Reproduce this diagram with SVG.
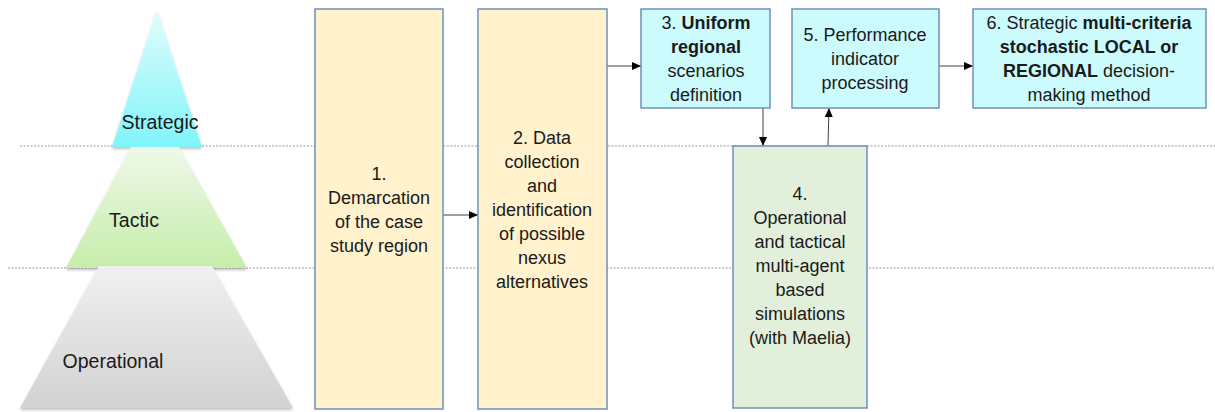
<svg xmlns="http://www.w3.org/2000/svg" width="1215" height="412" viewBox="0 0 1215 412">
<defs>
<linearGradient id="gS" x1="0" y1="0" x2="0" y2="1"><stop offset="0" stop-color="#e2fcfd"/><stop offset="1" stop-color="#7ff5fa"/></linearGradient>
<linearGradient id="gT" x1="0" y1="0" x2="0" y2="1"><stop offset="0" stop-color="#eef8e8"/><stop offset="1" stop-color="#c6edab"/></linearGradient>
<linearGradient id="gO" x1="0" y1="0" x2="0" y2="1"><stop offset="0" stop-color="#f0f0f0"/><stop offset="1" stop-color="#d2d2d2"/></linearGradient>
<filter id="sh" x="-10%" y="-10%" width="120%" height="130%"><feDropShadow dx="0" dy="2" stdDeviation="1.5" flood-color="#000" flood-opacity="0.25"/></filter>
<marker id="ah" markerWidth="10" markerHeight="8" refX="9" refY="4" orient="auto" markerUnits="userSpaceOnUse"><path d="M0,0 L9,4 L0,8 Z" fill="#000"/></marker>
<style>
.dash{stroke:#9a9a9a;stroke-width:1;stroke-dasharray:2,1.5;fill:none}
.box{stroke:#6f8fbf;stroke-width:1.5}
.y{fill:#fff2cc}
.c{fill:#ccfbfd}
.g{fill:#e2efda}
text{font-family:"Liberation Sans",Arial,sans-serif;fill:#1a1a1a}
.t{font-size:18px;text-anchor:middle}
.p{font-size:19.5px;text-anchor:middle}
.b{font-weight:bold}
.con{stroke:#404040;stroke-width:1;fill:none;marker-end:url(#ah)}
</style>
</defs>
<g id="guides">
<line class="dash" x1="20" y1="146" x2="1215" y2="146"/>
<line class="dash" x1="8" y1="268" x2="1215" y2="268"/>
</g>
<g id="pyramid">
<g id="strategic"><polygon points="157,10 202,147 112,147" fill="url(#gS)" filter="url(#sh)"/><text class="p" x="160" y="129">Strategic</text></g>
<g id="tactic"><polygon points="131,147 179,147 247,268 66,268" fill="url(#gT)" filter="url(#sh)"/><text class="p" x="134" y="227">Tactic</text></g>
<g id="operational"><polygon points="99,266 212,266 293,408 20,408" fill="url(#gO)" filter="url(#sh)"/><text class="p" x="113" y="368">Operational</text></g>
</g>
<g id="connectors">
<line class="con" x1="443" y1="215" x2="478" y2="215"/>
<line class="con" x1="607" y1="66" x2="641" y2="66"/>
<line class="con" x1="763" y1="108" x2="763" y2="146"/>
<line class="con" x1="828" y1="146" x2="829" y2="108"/>
<line class="con" x1="939" y1="66" x2="973" y2="66"/>
</g>
<g id="node1"><rect class="box y" x="315" y="9" width="128" height="400"/>
<text class="t" x="379"><tspan x="379" y="180">1.</tspan><tspan x="379" y="204">Demarcation</tspan><tspan x="379" y="228">of the case</tspan><tspan x="379" y="252">study region</tspan></text></g>
<g id="node2"><rect class="box y" x="478" y="9" width="129" height="400"/>
<text class="t" x="542"><tspan x="542" y="144">2. Data</tspan><tspan x="542" y="168">collection</tspan><tspan x="542" y="192">and</tspan><tspan x="542" y="216">identification</tspan><tspan x="542" y="240">of possible</tspan><tspan x="542" y="264">nexus</tspan><tspan x="542" y="288">alternatives</tspan></text></g>
<g id="node3"><rect class="box c" x="641" y="9" width="129" height="99"/>
<text class="t" x="706"><tspan x="706" y="29">3. <tspan class="b">Uniform</tspan></tspan><tspan x="706" y="53" class="b">regional</tspan><tspan x="706" y="77">scenarios</tspan><tspan x="706" y="101">definition</tspan></text></g>
<g id="node4"><rect class="box g" x="733" y="146" width="134" height="262"/>
<text class="t" x="800"><tspan x="800" y="200">4.</tspan><tspan x="800" y="224">Operational</tspan><tspan x="800" y="248">and tactical</tspan><tspan x="800" y="272">multi-agent</tspan><tspan x="800" y="296">based</tspan><tspan x="800" y="320">simulations</tspan><tspan x="800" y="344">(with Maelia)</tspan></text></g>
<g id="node5"><rect class="box c" x="792" y="9" width="147" height="99"/>
<text class="t" x="865"><tspan x="865" y="41">5. Performance</tspan><tspan x="865" y="65">indicator</tspan><tspan x="865" y="89">processing</tspan></text></g>
<g id="node6"><rect class="box c" x="973" y="9" width="233" height="99"/>
<text class="t" x="1089"><tspan x="1089" y="29">6. Strategic <tspan class="b">multi-criteria</tspan></tspan><tspan x="1089" y="53" class="b">stochastic LOCAL or</tspan><tspan x="1089" y="77"><tspan class="b">REGIONAL</tspan> decision-</tspan><tspan x="1089" y="101">making method</tspan></text></g>
</svg>
